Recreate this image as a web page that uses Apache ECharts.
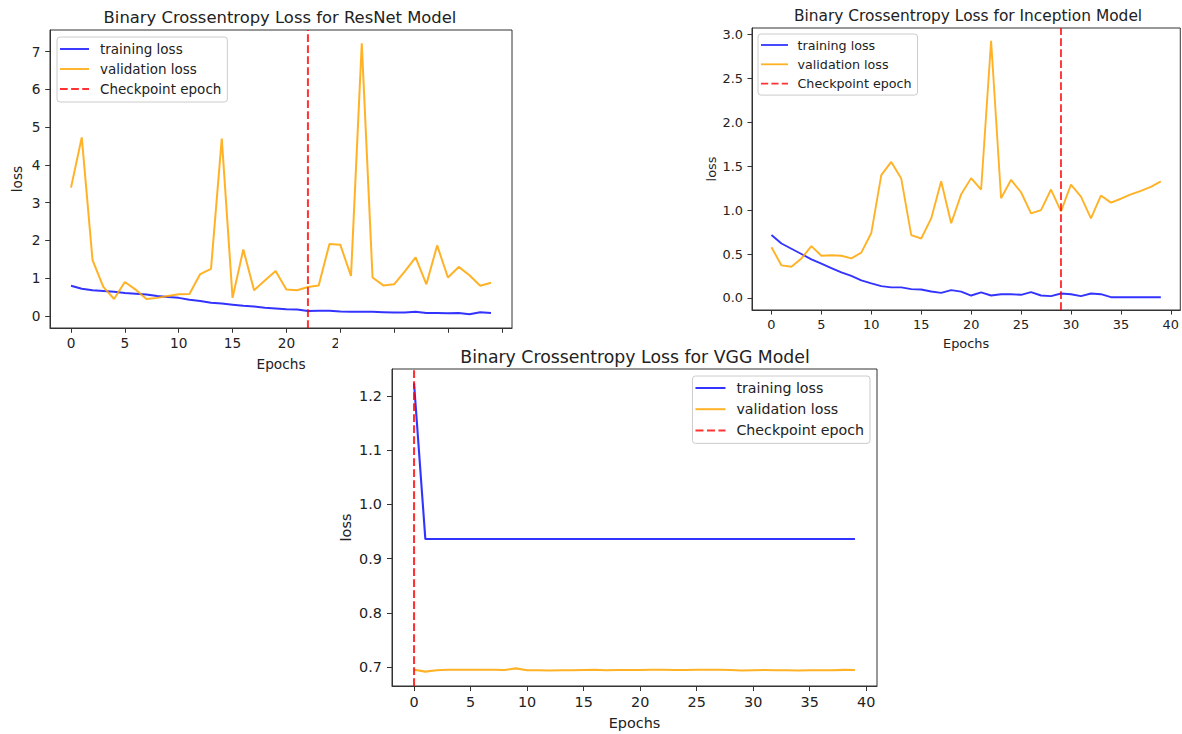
<!DOCTYPE html>
<html><head><meta charset="utf-8">
<script src="https://cdn.jsdelivr.net/npm/echarts@6/dist/echarts.min.js"></script>
<style>html,body{margin:0;padding:0;background:#fff}#c{width:1182px;height:734px}</style>
</head><body><div id="c"></div>
<script>
// ---------- data ----------
const epochs = [0,1,2,3,4,5,6,7,8,9,10,11,12,13,14,15,16,17,18,19,20,21,22,23,24,25,26,27,28,29,30,31,32,33,34,35,36,37,38,39];

const resnetTrain = [0.80,0.72,0.68,0.66,0.64,0.61,0.59,0.57,0.53,0.50,0.48,0.43,0.40,0.35,0.33,0.30,0.27,0.25,0.22,0.20,0.18,0.17,0.13,0.14,0.14,0.12,0.11,0.11,0.11,0.10,0.09,0.09,0.11,0.08,0.08,0.07,0.08,0.045,0.10,0.08];
const resnetVal = [3.40,4.73,1.48,0.77,0.45,0.90,0.70,0.45,0.48,0.53,0.575,0.58,1.11,1.25,4.70,0.48,1.76,0.68,0.94,1.19,0.70,0.68,0.77,0.81,1.91,1.89,1.06,7.22,1.02,0.81,0.84,1.18,1.55,0.84,1.87,1.02,1.30,1.08,0.80,0.88];
const resnetCheckpoint = 22;

const inceptionTrain = [0.716,0.62,0.56,0.50,0.44,0.39,0.34,0.29,0.25,0.20,0.165,0.134,0.12,0.12,0.10,0.096,0.073,0.057,0.088,0.072,0.027,0.062,0.027,0.042,0.042,0.035,0.065,0.027,0.02,0.05,0.042,0.02,0.05,0.042,0.008,0.008,0.008,0.008,0.008,0.008];
const inceptionVal = [0.578,0.37,0.355,0.45,0.59,0.48,0.486,0.48,0.45,0.516,0.74,1.40,1.55,1.36,0.716,0.677,0.906,1.33,0.85,1.18,1.365,1.235,2.93,1.135,1.346,1.204,0.963,1.0,1.235,0.986,1.29,1.155,0.906,1.166,1.086,1.13,1.18,1.22,1.266,1.327];
const inceptionCheckpoint = 29;

const vggTrain = [1.223,0.936,0.936,0.936,0.936,0.936,0.936,0.936,0.936,0.936,0.936,0.936,0.936,0.936,0.936,0.936,0.936,0.936,0.936,0.936,0.936,0.936,0.936,0.936,0.936,0.936,0.936,0.936,0.936,0.936,0.936,0.936,0.936,0.936,0.936,0.936,0.936,0.936,0.936,0.936];
const vggVal = [0.695,0.6915,0.694,0.695,0.695,0.695,0.695,0.695,0.6945,0.6975,0.694,0.694,0.6935,0.694,0.694,0.6945,0.695,0.694,0.6945,0.6945,0.6945,0.695,0.695,0.6945,0.6945,0.695,0.695,0.695,0.6945,0.6935,0.694,0.6945,0.694,0.694,0.6935,0.694,0.694,0.694,0.6948,0.6945];
const vggCheckpoint = 0;

const xTicks = [0,5,10,15,20,25,30,35,40];
// the upper-left panel's labels past 25 are hidden behind the lower panel in the reference
const resnetXLabels = [0,5,10,15,20,25];
const resnetYTicks = [0,1,2,3,4,5,6,7];
const inceptionYTicks = [0,0.5,1.0,1.5,2.0,2.5,3.0];
const vggYTicks = [0.7,0.8,0.9,1.0,1.1,1.2];

const titles = ['Binary Crossentropy Loss for ResNet Model','Binary Crossentropy Loss for Inception Model','Binary Crossentropy Loss for VGG Model'];
const seriesNames = ['training loss','validation loss','Checkpoint epoch'];

// ---------- style ----------
const FONT = 'DejaVu Sans';
const BLUE = 'rgba(0,0,255,0.8)';
const ORANGE = 'rgba(255,165,0,0.85)';
const RED = 'rgba(255,0,0,0.8)';
const AX = '#333';
const TXT = '#222';
const SOLID = 'path://M0,0H30V2H0Z';
const DASHED = 'path://M0,0H8V2H0Z M11.5,0H19.5V2H11.5Z M23,0H30V2H23Z';

const X_LIM = [-1.95, 40.95];
const panels = [
  {grid:{left:50, top:30, width:462, height:298}, ylim:[-0.318,7.575], yTicks:resnetYTicks, xLabels:resnetXLabels, fmt:v=>String(v), fs:13.7, lw:2,
   train:resnetTrain, val:resnetVal, cp:resnetCheckpoint, z:0, xGap:29, yGap:26, xMargin:8, yMargin:9.5, tick:4.8,
   title:{x:280, y:25.5, fs:16.4},
   legend:{left:57, top:37, itemWidth:29, itemHeight:14, itemGap:6, padding:[5,6,6,3], fs:13.5, tp:6}},
  {grid:{left:752, top:28, width:434, height:282}, ylim:[-0.138,3.076], yTicks:inceptionYTicks, xLabels:xTicks, fmt:v=>v.toFixed(1), fs:12.9, lw:1.9,
   train:inceptionTrain, val:inceptionVal, cp:inceptionCheckpoint, z:0, xGap:27, yGap:34, xMargin:7.5, yMargin:9, tick:4.5,
   title:{x:968, y:23.6, fs:15.4},
   legend:{left:758, top:34, itemWidth:27, itemHeight:13, itemGap:6.3, padding:[4.5,6,5,3], fs:12.7, tp:4.5}},
  {grid:{left:392, top:369, width:485, height:317}, ylim:[0.665,1.2496], yTicks:vggYTicks, xLabels:xTicks, fmt:v=>v.toFixed(1), fs:14.4, lw:2.1,
   train:vggTrain, val:vggVal, cp:vggCheckpoint, z:3, xGap:30, yGap:39, xMargin:8.5, yMargin:10, tick:5,
   title:{x:635, y:365.3, fs:17.3},
   legend:{right:312, top:376, itemWidth:30, itemHeight:14.4, itemGap:7.2, padding:[5,6,6,3], fs:14.2, tp:6}}
];

const grid = [], xAxis = [], yAxis = [], series = [], legend = [], graphic = [];
panels.forEach((p, i) => {
  grid.push(Object.assign({show:true, borderColor:AX, borderWidth:1, backgroundColor:'transparent', z:p.z}, p.grid));
  const txt = {fontSize:p.fs, fontFamily:FONT, color:TXT};
  xAxis.push({type:'value', gridIndex:i, min:X_LIM[0], max:X_LIM[1], z:p.z,
    axisLine:{show:true, onZero:false, lineStyle:{color:AX, width:1}},
    axisTick:{show:true, length:p.tick, lineStyle:{color:AX, width:1}, customValues:xTicks},
    axisLabel:Object.assign({customValues:p.xLabels, margin:p.xMargin, formatter:v=>String(v)}, txt),
    splitLine:{show:false},
    name:'Epochs', nameLocation:'middle', nameGap:p.xGap, nameTextStyle:txt});
  yAxis.push({type:'value', gridIndex:i, min:p.ylim[0], max:p.ylim[1], z:p.z,
    axisLine:{show:true, onZero:false, lineStyle:{color:AX, width:1}},
    axisTick:{show:true, length:p.tick, lineStyle:{color:AX, width:1}, customValues:p.yTicks},
    axisLabel:Object.assign({customValues:p.yTicks, margin:p.yMargin, formatter:p.fmt}, txt),
    splitLine:{show:false},
    name:'loss', nameLocation:'middle', nameGap:p.yGap, nameTextStyle:txt});
  const base = {type:'line', xAxisIndex:i, yAxisIndex:i, symbol:'none', showSymbol:false, animation:false, silent:true, z:Math.max(2,p.z)};
  series.push(Object.assign({}, base, {name:seriesNames[0], color:BLUE, lineStyle:{color:BLUE, width:p.lw},
    data:epochs.map((e,k)=>[e, p.train[k]])}));
  series.push(Object.assign({}, base, {name:seriesNames[1], color:ORANGE, lineStyle:{color:ORANGE, width:p.lw},
    data:epochs.map((e,k)=>[e, p.val[k]])}));
  series.push(Object.assign({}, base, {name:seriesNames[2], color:RED, lineStyle:{color:RED, width:p.lw, type:[7.7,3.3]},
    data:[[p.cp, p.ylim[0]],[p.cp, p.ylim[1]]]}));
  const L = p.legend;
  const lg = {orient:'vertical', top:L.top, itemWidth:L.itemWidth, itemHeight:L.itemHeight, itemGap:L.itemGap,
    padding:L.padding, backgroundColor:'rgba(255,255,255,0.8)', borderColor:'#cccccc', borderWidth:1, borderRadius:3,
    selectedMode:false, z:5,
    textStyle:{fontSize:L.fs, fontFamily:FONT, color:TXT, padding:[0,0,0,L.tp]},
    data:[{name:seriesNames[0], icon:SOLID},{name:seriesNames[1], icon:SOLID},{name:seriesNames[2], icon:DASHED}]};
  if (L.left != null) lg.left = L.left; else lg.right = L.right;
  legend.push(lg);
  graphic.push({type:'text', z:10, x:p.title.x, y:p.title.y,
    style:{text:titles[i], fontSize:p.title.fs, fontFamily:FONT, fill:TXT, textAlign:'center', textVerticalAlign:'bottom'}});
});
// white area of the lower image that overlaps the upper-left image's x labels
graphic.unshift({type:'rect', z:1, silent:true, shape:{x:338, y:333, width:600, height:401}, style:{fill:'#fff'}});

const chart = echarts.init(document.getElementById('c'), null, {renderer:'svg'});
chart.setOption({backgroundColor:'#fff', animation:false, grid, xAxis, yAxis, series, legend, graphic});
</script></body></html>
